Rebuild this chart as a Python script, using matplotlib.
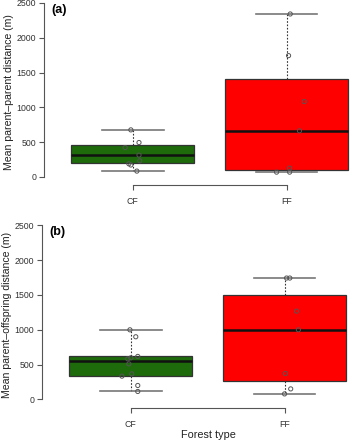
import numpy as np
import matplotlib
matplotlib.use("Agg")
import matplotlib.pyplot as plt

plt.rcParams['font.family'] = ['Liberation Sans', 'DejaVu Sans']

groups = ["CF", "FF"]
box_colors = ["#1d6b0b", "#ff0000"]

# box stats: whislo, q1, med, q3, whishi
a_stats = [[82, 200, 312, 460, 675], [67, 100, 661, 1408, 2342]]
b_stats = [[115, 335, 546, 618, 1000], [80, 263, 1000, 1503, 1743]]

# raw points and their jitter
a_cf = [675, 493, 421, 312, 230, 187, 170, 82]
a_cf_jit = [-0.013, 0.04, -0.05, 0.04, 0.045, -0.026, -0.013, 0.026]
a_ff = [2342, 1743, 1082, 661, 125, 67, 67]
a_ff_jit = [0.024, 0.013, 0.115, 0.084, 0.02, -0.065, 0.02]
b_cf = [1000, 900, 618, 598, 583, 511, 368, 335, 201, 115]
b_cf_jit = [-0.006, 0.032, 0.045, 0.0, -0.02, -0.013, 0.006, -0.058, 0.045, 0.045]
b_ff = [1743, 1743, 1268, 1000, 373, 152, 80]
b_ff_jit = [0.013, 0.034, 0.078, 0.09, 0.006, 0.04, 0.0]

W, H = 350, 442
fig = plt.figure(figsize=(W / 100, H / 100), dpi=100)


def panel(rect, stats, pts, jits, ylabel, tag):
    ax = fig.add_axes(rect)
    bx = []
    for s in stats:
        bx.append(dict(whislo=s[0], q1=s[1], med=s[2], q3=s[3], whishi=s[4], fliers=[]))
    res = ax.bxp(bx, positions=[1, 2], widths=0.8, patch_artist=True,
                 showfliers=False,
                 boxprops=dict(edgecolor="#333333", linewidth=0.9),
                 medianprops=dict(color="#111111", linewidth=1.8),
                 whiskerprops=dict(color="#333333", linestyle=(0, (1.5, 1.5)), linewidth=0.8),
                 capprops=dict(color="#777777", linewidth=1.2), capwidths=0.4)
    for p, c in zip(res["boxes"], box_colors):
        p.set_facecolor(c)
    for i, (y, j) in enumerate(zip(pts, jits)):
        ax.scatter(np.full(len(y), i + 1) + np.array(j), y, s=9, facecolors="none",
                   edgecolors="#555555", linewidths=0.7, zorder=5)
    ax.set_xlim(0.42, 2.58)
    ax.set_ylim(-118, 2543)
    for sp in ["top", "right"]:
        ax.spines[sp].set_visible(False)
    ax.spines["left"].set_bounds(0, 2500)
    ax.spines["bottom"].set_bounds(1, 2)
    for sp in ["left", "bottom"]:
        ax.spines[sp].set_color("#555555")
        ax.spines[sp].set_linewidth(0.8)
    ax.set_yticks([0, 500, 1000, 1500, 2000, 2500])
    ax.set_xticks([1, 2])
    ax.set_xticklabels(groups)
    ax.tick_params(axis="both", labelsize=6.3, colors="#555555", length=3.5,
                   width=0.8, labelcolor="#333333", pad=2)
    ax.tick_params(axis="x", pad=5)
    ax.set_ylabel(ylabel, fontsize=7.6, color="#222222", labelpad=2)
    ax.text(0.47, 2400, tag, fontsize=9, fontweight="bold", va="center", ha="left")
    return ax


x0 = 43.7 / W
xw = 332 / W
panel([x0, (H - 185) / H, xw, 185 / H], a_stats, [a_cf, a_ff], [a_cf_jit, a_ff_jit],
      "Mean parent\u2013parent distance (m)", "(a)")
panel([x0 - 2 / W, (H - 407.7) / H, xw, 185.4 / H], b_stats, [b_cf, b_ff], [b_cf_jit, b_ff_jit],
      "Mean parent\u2013offspring distance (m)", "(b)")
fig.text(208 / W, 2.5 / H, "Forest type", fontsize=7.8, color="#222222",
         ha="center", va="bottom")

fig.savefig("out.png", dpi=100)
